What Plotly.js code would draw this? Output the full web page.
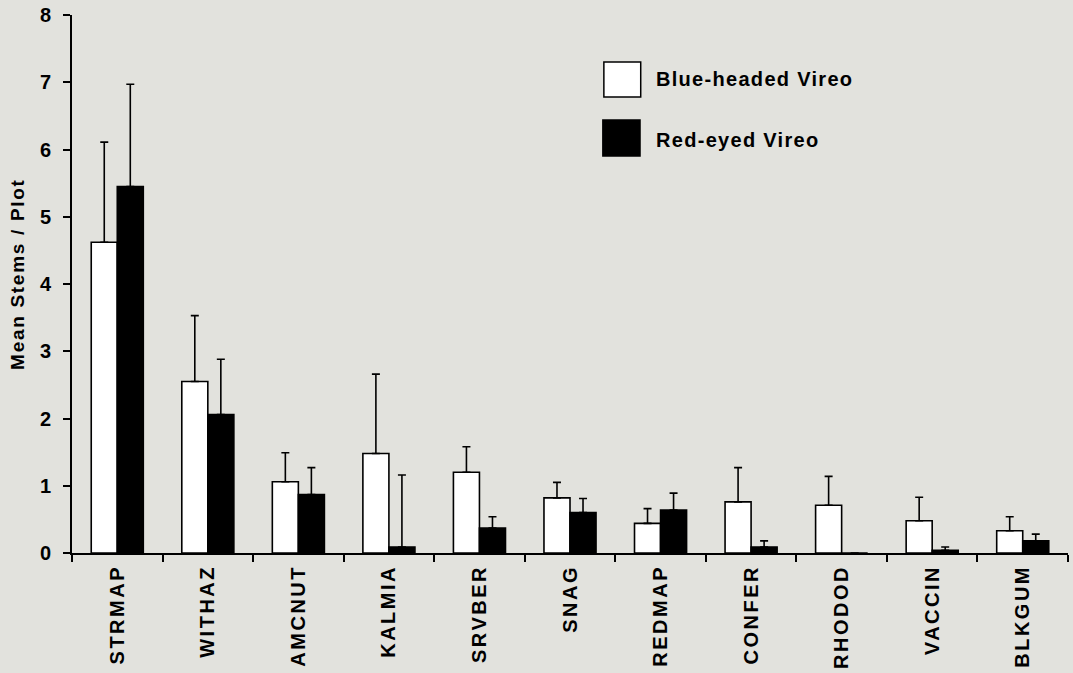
<!DOCTYPE html>
<html>
<head>
<meta charset="utf-8">
<script src="https://cdn.plot.ly/plotly-3.0.1.min.js"></script>
<style>
  html, body { margin: 0; padding: 0; background: #e2e2dd; }
  #chart { width: 1073px; height: 673px; }
  .xtick text { letter-spacing: 2.5px; }
  .annotation-text { letter-spacing: 1.3px; }
  .annotation[data-index="2"] .annotation-text { letter-spacing: 1.7px; }
</style>
</head>
<body>
<div id="chart"></div>
<script>
const categories = ["STRMAP", "WITHAZ", "AMCNUT", "KALMIA", "SRVBER", "SNAG", "REDMAP", "CONFER", "RHODOD", "VACCIN", "BLKGUM"];
const blueHeaded = [4.62, 2.55, 1.06, 1.48, 1.20, 0.82, 0.44, 0.76, 0.71, 0.48, 0.33];
const blueHeadedErr = [1.49, 0.98, 0.43, 1.18, 0.38, 0.23, 0.22, 0.51, 0.43, 0.35, 0.21];
const redEyed = [5.45, 2.06, 0.87, 0.09, 0.37, 0.60, 0.64, 0.09, 0.0, 0.04, 0.18];
const redEyedErr = [1.52, 0.82, 0.40, 1.07, 0.17, 0.21, 0.25, 0.09, 0.0, 0.05, 0.10];
const yTicks = [0, 1, 2, 3, 4, 5, 6, 7, 8];
const seriesNames = ["Blue-headed Vireo", "Red-eyed Vireo"];

const bg = "#e2e2dd";
const font = "Liberation Sans, Arial, sans-serif";

const traces = [
  {
    type: "bar", name: seriesNames[0], x: categories, y: blueHeaded,
    marker: { color: "#ffffff", line: { color: "#000000", width: 1.6 } },
    error_y: { type: "data", array: blueHeadedErr, symmetric: false, arrayminus: blueHeaded.map(() => 0), color: "#000000", thickness: 1.6, width: 4 }
  },
  {
    type: "bar", name: seriesNames[1], x: categories, y: redEyed,
    marker: { color: "#000000", line: { color: "#000000", width: 1.6 } },
    error_y: { type: "data", array: redEyedErr, symmetric: false, arrayminus: redEyed.map(() => 0), color: "#000000", thickness: 1.6, width: 4 }
  }
];

const layout = {
  width: 1073, height: 673,
  margin: { l: 72, r: 5, t: 15, b: 120 },
  paper_bgcolor: bg, plot_bgcolor: bg,
  barmode: "group", bargap: 0.425, bargroupgap: 0,
  showlegend: false,
  font: { family: font, color: "#000000" },
  xaxis: {
    type: "category", tickson: "boundaries", ticks: "outside", ticklen: 7, tickwidth: 2, tickcolor: "#000",
    showline: true, linecolor: "#000", linewidth: 2, showgrid: false, zeroline: false,
    tickangle: -90, tickfont: { family: font, size: 20, color: "#000", weight: "bold" },
    ticklabelstandoff: 2
  },
  yaxis: {
    range: [0, 8], tickvals: yTicks, ticktext: yTicks.map(String), ticks: "outside", ticklen: 7, tickwidth: 2, tickcolor: "#000",
    showline: true, linecolor: "#000", linewidth: 2, showgrid: false, zeroline: false,
    tickfont: { family: font, size: 20, color: "#000", weight: "bold" },
    ticklabelstandoff: 8
  },
  shapes: [
    { type: "rect", xref: "paper", yref: "paper", x0: 0.534, x1: 0.571, y0: 0.8476, y1: 0.9126, fillcolor: "#ffffff", line: { color: "#000", width: 1.5 } },
    { type: "rect", xref: "paper", yref: "paper", x0: 0.533, x1: 0.5703, y0: 0.738, y1: 0.805, fillcolor: "#000000", line: { color: "#000", width: 1.5 } }
  ],
  annotations: [
    { xref: "paper", yref: "paper", x: 0.584, y: 0.881, xanchor: "left", yanchor: "middle", showarrow: false, text: seriesNames[0], font: { family: font, size: 20, color: "#000", weight: "bold" } },
    { xref: "paper", yref: "paper", x: 0.584, y: 0.768, xanchor: "left", yanchor: "middle", showarrow: false, text: seriesNames[1], font: { family: font, size: 20, color: "#000", weight: "bold" } },
    { xref: "paper", yref: "paper", x: -0.0545, y: 0.519, xanchor: "center", yanchor: "middle", showarrow: false, textangle: -90, text: "Mean Stems / Plot", font: { family: font, size: 19, color: "#000", weight: "bold" } }
  ]
};

Plotly.newPlot("chart", traces, layout, { displayModeBar: false, staticPlot: true });
</script>
</body>
</html>
